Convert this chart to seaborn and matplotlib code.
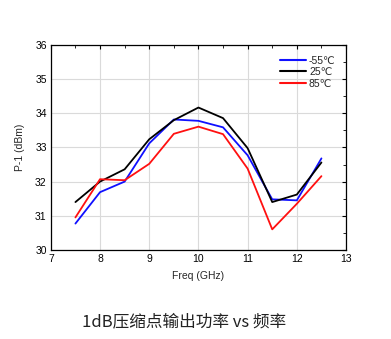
import matplotlib
matplotlib.use("Agg")
import matplotlib.pyplot as plt
import seaborn as sns
import pandas as pd
from matplotlib.ticker import MultipleLocator

freq = [7.5, 8, 8.5, 9, 9.5, 10, 10.5, 11, 11.5, 12, 12.5]
p_m55 = [30.77, 31.69, 32.0, 33.12, 33.82, 33.78, 33.59, 32.77, 31.48, 31.45, 32.68]
p_25 = [31.4, 32.0, 32.36, 33.24, 33.8, 34.17, 33.86, 32.98, 31.4, 31.62, 32.56]
p_85 = [30.95, 32.07, 32.04, 32.52, 33.4, 33.61, 33.39, 32.38, 30.6, 31.35, 32.16]
labels = ["-55℃", "25℃", "85℃"]
colors = ["#1010ff", "#000000", "#ff1010"]

df = pd.concat([
    pd.DataFrame({"freq": freq, "p1": v, "temp": lab})
    for v, lab in zip([p_m55, p_25, p_85], labels)
])

sns.set_style("white")
plt.rcParams['font.family'] = ['Liberation Sans', 'DejaVu Sans']

fig = plt.figure(figsize=(3.91, 3.39), dpi=100)
ax = fig.add_axes([0.130, 0.263, 0.755, 0.604])
sns.lineplot(data=df, x="freq", y="p1", hue="temp", palette=colors,
             hue_order=labels, linewidth=1.3, ax=ax)

ax.set_xlim(7, 13)
ax.set_ylim(30, 36)
ax.xaxis.set_major_locator(MultipleLocator(1))
ax.xaxis.set_minor_locator(MultipleLocator(0.5))
ax.yaxis.set_major_locator(MultipleLocator(1))
ax.yaxis.set_minor_locator(MultipleLocator(0.5))
ax.grid(True, which="major", color="#dadada", linewidth=0.8)
ax.tick_params(which="both", direction="in", top=True, right=True,
               labelsize=7.5, colors="black", pad=3)
ax.tick_params(which="major", length=3, width=0.8)
ax.tick_params(which="minor", length=2, width=0.6)
for s in ax.spines.values():
    s.set_color("black")
    s.set_linewidth(0.9)
ax.set_xlabel("Freq (GHz)", fontsize=7.5, labelpad=5)
ax.set_ylabel("P-1 (dBm)", fontsize=7.5, labelpad=7)

leg = ax.legend(loc="upper right", frameon=False, fontsize=7.5,
                handlelength=2.5, handletextpad=0.3, labelspacing=0.15,
                borderaxespad=0.6)
for ln in leg.get_lines():
    ln.set_linewidth(1.5)

fig.text(0.47, 0.05, "1dB压缩点输出功率 vs 频率", ha="center", va="center",
         fontsize=12, family=["Noto Sans CJK SC", "DejaVu Sans"], color="#222222")

fig.savefig("out.png", dpi=100)
